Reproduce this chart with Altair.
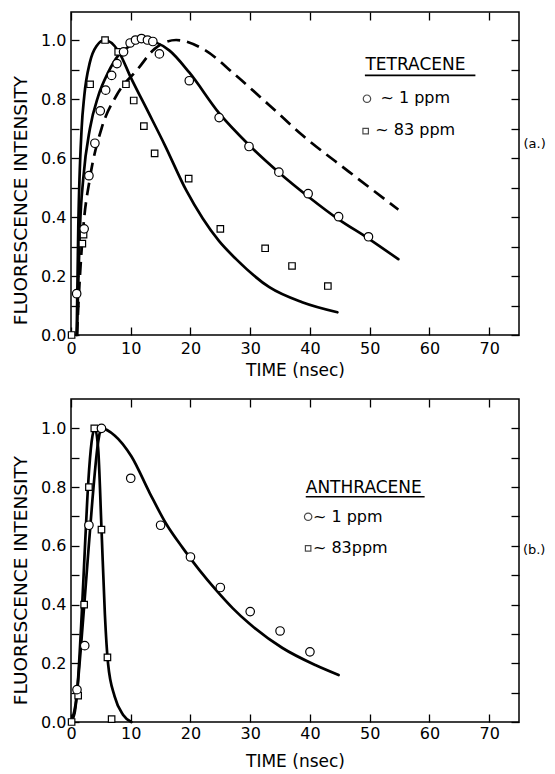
import altair as alt
import pandas as pd

FONT = "DejaVu Sans"

# ---------------- shared tick values ----------------
X_TICKS = [0, 10, 20, 30, 40, 50, 60, 70]
Y_TICKS = [0.0, 0.1, 0.2, 0.3, 0.4, 0.5, 0.6, 0.7, 0.8, 0.9, 1.0]

# ---------------- panel (a): TETRACENE ----------------
a_circ_t = [0.95, 2.2, 3.0, 4.0, 4.9, 5.8, 6.8, 7.7, 8.8, 9.9, 10.8, 11.8, 12.8, 13.7, 14.8,
            19.8, 24.8, 29.8, 34.8, 39.7, 44.8, 49.8]
a_circ_v = [0.14, 0.36, 0.54, 0.65, 0.76, 0.83, 0.88, 0.92, 0.96, 0.99, 1.0, 1.005, 1.0, 0.995, 0.953,
            0.862, 0.737, 0.639, 0.552, 0.479, 0.401, 0.333]
a_sq_t = [0.1, 1.9, 2.1, 3.2, 5.7, 7.9, 9.2, 10.5, 12.2, 14.0, 19.7, 25.0, 32.5, 37.0, 43.0]
a_sq_v = [0.0, 0.31, 0.34, 0.85, 1.0, 0.96, 0.85, 0.795, 0.708, 0.616, 0.53, 0.36, 0.294, 0.234, 0.166]

a_fit1_t = [1.0, 1.25, 1.5, 2.06, 3.17, 4.56, 6.22, 7.89, 9.83, 12.3, 16.5, 19.8, 24.8, 29.8,
            34.8, 39.8, 44.8, 49.8, 54.8]
a_fit1_v = [0.0, 0.2, 0.364, 0.532, 0.70, 0.81, 0.89, 0.947, 0.98, 1.0, 0.964, 0.89, 0.752, 0.644,
            0.551, 0.468, 0.392, 0.327, 0.257]
a_fit83_t = [0.95, 1.22, 1.78, 2.22, 3.17, 4.28, 5.67, 7.89, 10.1, 12.9, 15.7, 19.3, 22.06, 24.8,
             27.6, 33.2, 38.7, 44.6]
a_fit83_v = [0.0, 0.364, 0.70, 0.81, 0.925, 0.98, 1.0, 0.964, 0.869, 0.757, 0.644, 0.49, 0.395, 0.318,
             0.258, 0.162, 0.111, 0.077]
a_dash_t = [1.0, 1.33, 2.06, 3.17, 5.11, 7.61, 11.2, 14.0, 17.6, 22.06, 27.6, 33.2, 38.7, 46.5, 54.8]
a_dash_v = [0.0, 0.139, 0.364, 0.532, 0.70, 0.812, 0.902, 0.97, 1.0, 0.97, 0.88, 0.779, 0.678, 0.554, 0.425]

# ---------------- panel (b): ANTHRACENE ----------------
b_circ_t = [1.0, 2.3, 3.0, 5.1, 10.0, 15.0, 20.0, 25.0, 30.0, 35.0, 40.0]
b_circ_v = [0.11, 0.26, 0.67, 1.0, 0.83, 0.67, 0.562, 0.458, 0.376, 0.31, 0.239]
b_sq_t = [0.1, 1.2, 2.2, 3.0, 3.9, 5.1, 6.1, 6.8]
b_sq_v = [0.0, 0.09, 0.40, 0.80, 1.0, 0.655, 0.22, 0.01]

b_fit1_t = [0.0, 0.6, 1.6, 2.6, 3.6, 4.55, 5.1, 7.3, 10.1, 13.2, 15.9, 18.7, 21.5, 24.3, 27.1, 29.8,
            35.4, 40.9, 44.8]
b_fit1_v = [0.0, 0.03, 0.24, 0.5, 0.76, 0.954, 1.0, 0.976, 0.905, 0.779, 0.676, 0.593, 0.517, 0.449,
            0.387, 0.336, 0.252, 0.194, 0.16]
b_fit83_t = [0.0, 0.95, 1.8, 2.33, 2.9, 3.45, 4.0, 4.55, 5.1, 5.67, 6.2, 7.3, 8.7, 10.1]
b_fit83_v = [0.0, 0.087, 0.368, 0.594, 0.819, 0.954, 1.0, 0.93, 0.661, 0.368, 0.2, 0.087, 0.025, 0.0]

# annotation texts
a_title = "TETRACENE"
b_title = "ANTHRACENE"
lab_1ppm = "~ 1 ppm"
lab_83ppm_a = "~ 83 ppm"
lab_83ppm_b = "~ 83ppm"
a_tag = "(a.)"
b_tag = "(b.)"


def df(t, v):
    return pd.DataFrame({"t": t, "v": v})


def make_panel(circ, sq, solids, dashed, ytop, height, ann, xlab_pad, xtitle_pad, ytitle_y):
    xs = alt.Scale(domain=[0, 75], nice=False, zero=False)
    ys = alt.Scale(domain=[0, ytop], nice=False, zero=False)
    common = dict(tickColor="black", tickWidth=1.3, labelColor="black", titleColor="black",
                  grid=False, domain=False, labelFont=FONT, titleFont=FONT,
                  titleFontWeight="normal", minExtent=0)
    ax_b = alt.Axis(orient="bottom", values=X_TICKS, format="d", tickSize=8, offset=-8,
                    labelPadding=xlab_pad, labelFontSize=16, labelFlush=False, labelOverlap=False,
                    title="TIME (nsec)", titleFontSize=17, titlePadding=xtitle_pad, **common)
    ax_l = alt.Axis(orient="left", values=Y_TICKS, tickSize=8, offset=-8,
                    labelExpr="round(datum.value*10) % 2 == 0 ? format(datum.value, '.1f') : ''",
                    labelPadding=5, labelFontSize=16, labelFlush=False, labelOverlap=False,
                    title="FLUORESCENCE INTENSITY", titleFontSize=18.5, titlePadding=10,
                    titleY=ytitle_y, **common)
    ax_t = alt.Axis(orient="top", values=X_TICKS, tickSize=8, offset=-8, labels=False,
                    title=None, maxExtent=0, **common)
    ax_r = alt.Axis(orient="right", values=Y_TICKS, tickSize=8, offset=-8, labels=False,
                    title=None, maxExtent=0, **common)

    layers = []
    # solid fitted curves
    for i, (t, v) in enumerate(solids):
        if i == 0:
            xe = alt.X("t:Q", scale=xs, axis=ax_b)
            ye = alt.Y("v:Q", scale=ys, axis=ax_l)
        elif i == 1:
            xe = alt.X("t:Q", scale=xs, axis=ax_t)
            ye = alt.Y("v:Q", scale=ys, axis=ax_r)
        else:
            xe = alt.X("t:Q", scale=xs, axis=None)
            ye = alt.Y("v:Q", scale=ys, axis=None)
        layers.append(alt.Chart(df(t, v)).mark_line(
            color="black", strokeWidth=2.7, interpolate="monotone", strokeCap="round"
        ).encode(x=xe, y=ye))
    if dashed is not None:
        layers.append(alt.Chart(df(*dashed)).mark_line(
            color="black", strokeWidth=2.7, interpolate="monotone", strokeDash=[13, 7]
        ).encode(x=alt.X("t:Q", scale=xs, axis=None), y=alt.Y("v:Q", scale=ys, axis=None)))

    X = alt.X("t:Q", scale=xs, axis=None)
    Y = alt.Y("v:Q", scale=ys, axis=None)
    layers.append(alt.Chart(df(*sq)).mark_point(
        shape="square", size=42, filled=False, fill="white", fillOpacity=1,
        stroke="black", strokeWidth=1.2, opacity=1).encode(x=X, y=Y))
    layers.append(alt.Chart(df(*circ)).mark_point(
        shape="circle", size=72, filled=False, fill="white", fillOpacity=1,
        stroke="black", strokeWidth=1.2, opacity=1).encode(x=X, y=Y))

    # annotations
    (title, tt, tv, ul_t1, ul_t2, ul_v, c_t, c_v, c_lab, c_lt, c_lv,
     s_t, s_v, s_lab, s_lt, s_lv, tag, tag_t, tag_v) = ann
    layers.append(alt.Chart(pd.DataFrame({"t": [tt], "v": [tv], "label": [title]})).mark_text(
        align="left", baseline="alphabetic", font=FONT, fontSize=17, color="black"
    ).encode(x=X, y=Y, text="label:N"))
    layers.append(alt.Chart(pd.DataFrame({"t": [ul_t1], "t2": [ul_t2], "v": [ul_v]})).mark_rule(
        color="black", strokeWidth=1.6).encode(x=X, x2="t2:Q", y=Y))
    layers.append(alt.Chart(pd.DataFrame({"t": [c_lt, s_lt], "v": [c_lv, s_lv],
                                          "label": [c_lab, s_lab]})).mark_text(
        align="left", baseline="alphabetic", font=FONT, fontSize=16, color="black"
    ).encode(x=X, y=Y, text="label:N"))
    layers.append(alt.Chart(pd.DataFrame({"t": [c_t], "v": [c_v]})).mark_point(
        shape="circle", size=55, filled=False, stroke="black", strokeWidth=1.2).encode(x=X, y=Y))
    layers.append(alt.Chart(pd.DataFrame({"t": [s_t], "v": [s_v]})).mark_point(
        shape="square", size=30, filled=False, stroke="black", strokeWidth=1.2).encode(x=X, y=Y))
    layers.append(alt.Chart(pd.DataFrame({"t": [tag_t], "v": [tag_v], "label": [tag]})).mark_text(
        align="left", baseline="alphabetic", font=FONT, fontSize=13, color="black"
    ).encode(x=X, y=Y, text="label:N"))

    return alt.layer(*layers).resolve_axis(x="independent", y="independent").properties(
        width=448, height=height)


ann_a = (a_title, 49.3, 0.899, 49.2, 67.7, 0.88,
         49.55, 0.801, lab_1ppm, 51.8, 0.785,
         49.33, 0.691, lab_83ppm_a, 50.95, 0.678,
         a_tag, 75.75, 0.633)
ann_b = (b_title, 39.3, 0.78, 39.3, 59.2, 0.767,
         39.7, 0.699, lab_1ppm, 40.5, 0.682,
         39.7, 0.591, lab_83ppm_b, 40.5, 0.574,
         b_tag, 75.65, 0.571)

top = make_panel((a_circ_t, a_circ_v), (a_sq_t, a_sq_v),
                 [(a_fit83_t, a_fit83_v), (a_fit1_t, a_fit1_v)], (a_dash_t, a_dash_v),
                 1.095, 323, ann_a, 5, 6, 188)
bottom = make_panel((b_circ_t, b_circ_v), (b_sq_t, b_sq_v),
                    [(b_fit1_t, b_fit1_v), (b_fit83_t, b_fit83_v)], None,
                    1.1, 323, ann_b, 3, 12, 181)

chart = alt.vconcat(top, bottom, spacing=18).properties(
    padding={"left": 2, "top": 2, "right": 0, "bottom": 0},
    background="white",
).configure_view(stroke="black", strokeWidth=1.5)

chart.save("out.html", embed_options={"renderer": "svg", "actions": False})
